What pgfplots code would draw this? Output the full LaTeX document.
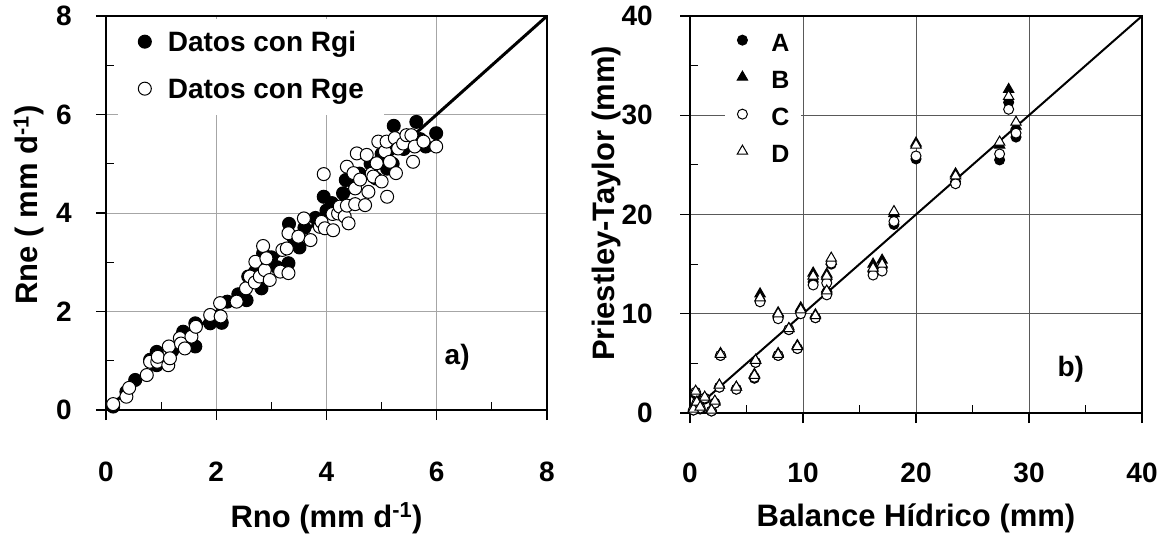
\documentclass[border=0pt]{standalone}
\usepackage{pgfplots}
\pgfplotsset{compat=1.18}
\usepackage{fontspec}
\setmainfont{Liberation Sans}

\pgfplotsset{
  panel/.style={
    scale only axis,
    clip=false,
    xtick pos=bottom, ytick pos=left,
    tick align=outside,
    major tick length=10pt,
    minor tick length=-8pt, % short inward ticks between the labelled ones
    axis line style={line width=1.3pt},
    tick style={black, line width=1.2pt},
    grid=major,
    /pgf/number format/assume math mode=true,
    tick label style={font=\fontsize{28}{32}\selectfont\bfseries, inner sep=0pt},
    label style={font=\fontsize{31}{36}\selectfont\bfseries},
    legend cell align=left,
  },
}

\begin{document}
\begin{tikzpicture}

% ---- a) Rne vs Rno
\begin{axis}[panel,
  at={(0pt,0pt)}, anchor=south west,
  width=441pt, height=394pt,
  xmin=0, xmax=8, ymin=0, ymax=8,
  xtick={0,2,...,8}, ytick={0,2,...,8},
  minor xtick={1,3,5,7}, minor ytick={1,3,5,7},
  major grid style={line width=1pt, black!35},
  yticklabel style={xshift=-24pt},
  xticklabel style={yshift=-42pt},
  xlabel={Rno (mm d\textsuperscript{-1})},
  ylabel={Rne ( mm d\textsuperscript{-1})},
  xlabel style={at={(axis description cs:0.5,-0.297)}, anchor=base},
  ylabel style={at={(axis description cs:-0.175,0.52)}, anchor=center},
  legend style={at={(axis cs:0.22,7.94)}, anchor=north west,
    fill=white, draw=none, inner xsep=20pt, inner ysep=11pt,
    font=\fontsize{28}{32}\selectfont\bfseries,
    nodes={inner sep=0pt, text height=21pt, text depth=6pt},
    row sep=20pt},
  legend image code/.code={\path[draw=none,fill=none] (0pt,2pt) -- (23pt,2pt);
    \draw[#1] plot coordinates {(0pt,2pt)};},
]
\addplot[black, line width=3pt, forget plot] coordinates {(0,0) (8,8)};

\addplot[only marks, mark=*, mark size=6.5pt,
  mark options={draw=black, fill=black, line width=1pt}] coordinates {
(0.13,0.07) (0.37,0.37) (0.53,0.61) (0.80,1.02) (0.92,0.91) (0.92,1.18)
(1.20,1.20) (1.40,1.59) (1.50,1.50) (1.62,1.29) (1.62,1.76) (1.89,1.76)
(2.10,1.77) (2.20,2.20) (2.40,2.35) (2.55,2.23) (2.58,2.71) (2.70,2.80)
(2.82,2.47) (2.85,3.18) (3.00,3.10) (3.10,2.90) (3.31,2.98) (3.32,3.78)
(3.40,3.50) (3.51,3.30) (3.60,3.70) (3.80,3.90) (3.95,4.33) (4.00,4.05)
(4.10,4.20) (4.30,4.40) (4.35,4.67) (4.50,4.60) (4.60,4.80) (4.80,5.00)
(4.90,4.70) (5.00,5.20) (5.10,4.90) (5.10,5.30) (5.20,5.00) (5.22,5.77)
(5.40,5.30) (5.50,5.50) (5.63,5.85) (5.70,5.50) (5.99,5.62) (5.80,5.35)
};
\addlegendentry{Datos con Rgi}

\addplot[only marks, mark=*, mark size=6.5pt,
  mark options={draw=black, fill=white, line width=1pt}] coordinates {
(0.13,0.12) (0.37,0.27) (0.42,0.45) (0.74,0.71) (0.80,0.98) (0.93,0.98)
(0.94,1.08) (1.13,0.91) (1.14,1.29) (1.16,1.05) (1.34,1.46) (1.36,1.35)
(1.43,1.25) (1.55,1.49) (1.63,1.69) (1.89,1.93) (2.07,2.17) (2.08,1.90)
(2.37,2.20) (2.54,2.47) (2.61,2.71) (2.70,2.59) (2.71,3.01) (2.79,2.71)
(2.88,2.84) (2.85,3.33) (2.91,3.08) (2.97,2.64) (3.16,2.81) (3.20,3.25)
(3.28,3.28) (3.31,2.78) (3.31,3.59) (3.49,3.52) (3.59,3.89) (3.71,3.45)
(3.88,3.72) (3.91,3.82) (3.97,3.69) (4.12,3.65) (3.95,4.79) (4.11,3.98)
(4.21,3.99) (4.24,4.13) (4.33,3.93) (4.37,4.15) (4.40,3.79) (4.37,4.94)
(4.49,4.81) (4.52,4.50) (4.52,4.18) (4.55,5.21) (4.61,4.68) (4.70,4.16)
(4.73,5.18) (4.76,4.43) (4.82,4.80) (4.85,4.74) (4.91,5.01) (4.94,5.45)
(5.00,4.64) (5.06,5.25) (5.09,5.45) (5.10,4.33) (5.15,5.04) (5.24,5.52)
(5.26,4.81) (5.30,5.31) (5.39,5.41) (5.45,5.58) (5.54,5.58) (5.57,5.04)
(5.60,5.35) (5.76,5.45) (5.99,5.35)
};
\addlegendentry{Datos con Rge}

\node[font=\fontsize{28}{32}\selectfont\bfseries] at (axis cs:6.37,1.08) {a)};
\end{axis}

% ---- b) Priestley-Taylor vs Balance Hidrico
\begin{axis}[panel,
  at={(584pt,-3pt)}, anchor=south west,
  width=452pt, height=397pt,
  xmin=0, xmax=40, ymin=0, ymax=40,
  xtick={0,10,...,40}, ytick={0,10,...,40},
  minor xtick={5,15,25,35}, minor ytick={5,15,25,35},
  major grid style={line width=1pt, black!65},
  yticklabel style={xshift=-27pt},
  xticklabel style={yshift=-40pt},
  xlabel={Balance Hídrico (mm)},
  ylabel={Priestley-Taylor (mm)},
  xlabel style={at={(axis description cs:0.5,-0.287)}, anchor=base},
  ylabel style={at={(axis description cs:-0.184,0.528)}, anchor=center},
  legend style={at={(axis cs:3.1,39.3)}, anchor=north west,
    fill=white, draw=none, inner xsep=12pt, inner ysep=10pt,
    font=\fontsize{25}{30}\selectfont\bfseries,
    nodes={inner sep=0pt, text height=18pt, text depth=0pt},
    row sep=19pt},
  legend image code/.code={\path[draw=none,fill=none] (0pt,2pt) -- (29pt,2pt);
    \draw[#1] plot coordinates {(0pt,2pt)};},
]
\addplot[black, line width=2pt, forget plot] coordinates {(0,0) (40,40)};

% A
\addplot[only marks, mark=*, mark size=5pt,
  mark options={draw=black, fill=black, line width=1pt}] coordinates {
(0.3,0.3) (0.5,1.9) (0.6,0.9) (0.9,0.4) (1.3,1.4) (1.9,0.2) (2.2,1.0)
(2.6,2.6) (2.7,5.8) (4.1,2.4) (5.7,3.5) (5.8,5.1) (6.2,11.3) (7.8,5.8)
(7.8,9.6) (8.75,8.4) (9.5,6.5) (9.8,10.2) (10.9,13.2) (11.1,9.6)
(12.1,13.5) (12.1,12.1) (12.5,15.0) (16.2,14.2) (17.0,14.6) (18.05,19.0)
(20.0,25.6) (23.5,23.3) (27.4,25.5) (28.2,31.3) (28.85,27.8)
};
\addlegendentry{A}

% B
\addplot[only marks, mark=triangle*, mark size=6pt,
  mark options={draw=black, fill=black, line width=1pt}] coordinates {
(0.3,0.5) (0.5,2.0) (0.6,1.0) (0.9,0.5) (1.3,1.5) (1.9,0.3) (2.2,1.1)
(2.6,2.8) (2.7,6.0) (4.1,2.6) (5.7,3.9) (5.8,5.3) (6.2,12.0) (7.8,6.0)
(7.8,10.1) (8.75,8.5) (9.5,6.8) (9.8,10.6) (10.9,14.1) (11.1,9.9)
(12.1,14.0) (12.1,12.5) (12.5,15.3) (16.2,15.0) (17.0,15.4) (18.05,20.1)
(20.0,27.2) (23.5,24.1) (27.4,27.0) (28.2,32.6) (28.85,28.9)
};
\addlegendentry{B}

% C
\addplot[only marks, mark=*, mark size=5pt,
  mark options={draw=black, fill=white, line width=1pt}] coordinates {
(0.3,0.3) (0.5,2.1) (0.6,1.0) (0.9,0.5) (1.3,1.5) (1.9,0.2) (2.2,1.0)
(2.6,2.6) (2.7,5.8) (4.1,2.4) (5.7,3.6) (5.8,5.1) (6.2,11.2) (7.8,5.8)
(7.8,9.5) (8.75,8.4) (9.5,6.5) (9.8,10.0) (10.9,12.9) (11.1,9.6)
(12.1,13.1) (12.1,11.9) (12.5,15.1) (16.2,13.9) (17.0,14.3) (18.05,19.3)
(20.0,25.9) (23.5,23.1) (27.4,26.1) (28.2,30.6) (28.85,28.2)
};
\addlegendentry{C}

% D
\addplot[only marks, mark=triangle*, mark size=6pt,
  mark options={draw=black, fill=white, line width=1pt}] coordinates {
(0.3,0.4) (0.5,2.2) (0.6,1.1) (0.9,0.6) (1.3,1.6) (1.9,0.3) (2.2,1.2)
(2.6,2.8) (2.7,5.9) (4.1,2.6) (5.7,3.8) (5.8,5.3) (6.2,11.6) (7.8,5.9)
(7.8,10.0) (8.75,8.5) (9.5,6.7) (9.8,10.4) (10.9,13.8) (11.1,9.8)
(12.1,13.8) (12.1,12.3) (12.5,15.6) (16.2,14.6) (17.0,15.0) (18.05,20.3)
(20.0,27.0) (23.5,23.9) (27.4,27.3) (28.2,31.9) (28.85,29.3)
};
\addlegendentry{D}

\node[font=\fontsize{28}{32}\selectfont\bfseries] at (axis cs:33.7,4.4) {b)};
\end{axis}

% page extent of the reference
\path (-106pt,-124pt) rectangle (1059pt,410pt);
\end{tikzpicture}
\end{document}
